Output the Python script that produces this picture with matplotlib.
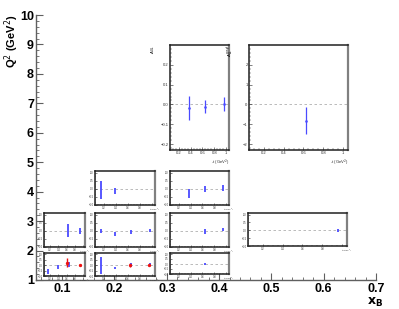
import matplotlib.pyplot as plt
from matplotlib.ticker import MultipleLocator

plt.rcParams['font.family'] = ['Liberation Sans', 'DejaVu Sans']

# -t values of the points inside the small panels
a1_blue_t = [0.15, 0.38, 0.66]
a1_blue = [-0.59, -0.14, 0.09]
a1_blue_err = [0.23, 0.18, 0.23]
a1_red_t = [0.62, 0.94]
a1_red = [0.23, 0.0]
a1_red_err = [0.40, 0.10]

a2_blue_t = [0.64, 0.94]
a2_blue = [0.0, -0.02]
a2_blue_err = [0.41, 0.19]

b1_blue_t = [0.145, 0.38, 0.655, 0.97]
b1_blue = [-0.05, -0.25, 0.0, 0.05]
b1_blue_err = [0.76, 0.10, 0.15, 0.10]
b1_red_t = [0.63, 0.95]
b1_red = [0.0, 0.0]
b1_red_err = [0.21, 0.08]

b2_blue_t = [0.145, 0.38, 0.645, 0.967]
b2_blue = [-0.01, -0.17, -0.07, 0.02]
b2_blue_err = [0.13, 0.12, 0.13, 0.08]

b3_blue_t = [0.145, 0.38]
b3_blue = [-0.09, -0.12]
b3_blue_err = [0.57, 0.17]

c1_blue_t = [0.64]
c1_blue = [0.0]
c1_blue_err = [0.09]

c2_blue_t = [0.64, 0.95]
c2_blue = [-0.04, 0.08]
c2_blue_err = [0.14, 0.12]

c3_blue_t = [0.377, 0.643, 0.95]
c3_blue = [-0.29, -0.02, 0.07]
c3_blue_err = [0.29, 0.18, 0.18]

d2_blue_t = [0.962]
d2_blue = [0.0]
d2_blue_err = [0.11]

# big panels
e_blue_t = [0.37, 0.64, 0.97]
e_blue = [-0.0185, -0.012, 0.0015]
e_blue_err = [0.06, 0.033, 0.036]

f_blue_t = [0.63]
f_blue = [-0.82]
f_blue_err = [0.68]

xb_ticks = [0.1, 0.2, 0.3, 0.4, 0.5, 0.6, 0.7]
q2_ticks = [1, 2, 3, 4, 5, 6, 7, 8, 9, 10]
t_ticks = [0.2, 0.4, 0.6, 0.8, 1.0]

W, H = 399, 309
fig = plt.figure(figsize=(W / 100, H / 100), dpi=100)

# main frame (x_B, Q^2)
ax = fig.add_axes([36 / W, 1 - 280 / H, 340 / W, 265 / H])
ax.set_xlim(0.05, 0.7)
ax.set_ylim(1, 10)
ax.set_xticks(xb_ticks)
ax.set_yticks(q2_ticks)
ax.set_xticklabels([f"{v:g}" for v in xb_ticks])
ax.xaxis.set_minor_locator(MultipleLocator(0.02))
ax.yaxis.set_minor_locator(MultipleLocator(0.2))
for s in ['top', 'right']:
    ax.spines[s].set_visible(False)
for s in ['left', 'bottom']:
    ax.spines[s].set_color('#606060')
    ax.spines[s].set_linewidth(1.0)
ax.tick_params(which='major', direction='in', length=5, width=0.8, color='#606060',
               labelsize=9)
ax.tick_params(which='minor', direction='in', length=2.5, width=0.6, color='#606060')
for lab in ax.get_xticklabels() + ax.get_yticklabels():
    lab.set_fontweight('bold')
ax.tick_params(axis='x', pad=2.5)
ax.tick_params(axis='y', pad=1.5)
fig.text(11.5 / W, 1 - 14 / H, 'Q$^{2}$ (GeV$^{2}$)', rotation=90, ha='center', va='top',
         fontsize=8, fontweight='bold')
fig.text(383 / W, 1 - 309 / H, r'$\mathbf{x_{B}}$', ha='right', va='bottom', fontsize=9)


def panel(box, ylim, ystep, big=False):
    l, t, r, b = box
    a = fig.add_axes([l / W, 1 - b / H, (r - l) / W, (b - t) / H])
    a.set_xlim(0.05, 1.05)
    a.set_ylim(*ylim)
    a.axhline(0, color='#b0b0b0', ls=(0, (3, 3)), lw=0.6, zorder=1)
    a.set_xticks(t_ticks)
    labels = [f"{v:g}" for v in t_ticks]
    if not big:
        labels[-1] = ''
    a.set_xticklabels(labels)
    a.yaxis.set_major_locator(MultipleLocator(ystep))
    a.yaxis.set_minor_locator(MultipleLocator(ystep / 5))
    a.xaxis.set_minor_locator(MultipleLocator(0.05))
    fs = 3 if big else 1.8
    a.tick_params(which='major', direction='in', length=2.5 if big else 1.5, width=0.4,
                  labelsize=fs, pad=1, color='#202020', labelcolor='#303030')
    a.tick_params(which='minor', direction='in', length=1.2 if big else 0.8, width=0.3,
                  color='#202020')
    for s in ['top', 'left', 'bottom']:
        a.spines[s].set_color('#202020')
        a.spines[s].set_linewidth(1.1)
    a.spines['right'].set_color('#808080')
    a.spines['right'].set_linewidth(1.6)
    if big:
        a.text(1.0, -0.07, '-t (GeV$^{2}$)', transform=a.transAxes,
               ha='right', va='top', fontsize=fs, color='#303030')
    else:
        # same row as the tick labels, right of the "0.8" label
        a.text(1.0 - 6 / (r - l), -1.3 / (b - t), '-t (GeV$^{2}$)',
               transform=a.transAxes, ha='left', va='top', fontsize=1.6,
               color='#303030')
    return a


def points(a, t, v, e, color, marker='none', ms=1.0, lw=1.3):
    a.errorbar(t, v, yerr=e, fmt=marker, color=color, ms=ms, lw=lw, capsize=0, zorder=3)


blue = '#4a4aff'
red = '#ee1111'
small = (-1.0, 1.1)

pa1 = panel((44, 253, 85, 276), small, 0.5)
points(pa1, a1_blue_t, a1_blue, a1_blue_err, blue)
points(pa1, a1_red_t, a1_red, a1_red_err, red, marker='o', ms=1.4, lw=1.0)

pa2 = panel((44, 213, 85, 247), small, 0.5)
points(pa2, a2_blue_t, a2_blue, a2_blue_err, blue)

pb1 = panel((95, 253, 155, 276), small, 0.5)
points(pb1, b1_red_t, b1_red, b1_red_err, red, marker='o', ms=1.4, lw=1.0)
points(pb1, b1_blue_t, b1_blue, b1_blue_err, blue)

pb2 = panel((95, 213, 155, 247), small, 0.5)
points(pb2, b2_blue_t, b2_blue, b2_blue_err, blue)

pb3 = panel((95, 171, 155, 205), small, 0.5)
points(pb3, b3_blue_t, b3_blue, b3_blue_err, blue)

pc1 = panel((170, 253, 229, 274), small, 0.5)
points(pc1, c1_blue_t, c1_blue, c1_blue_err, blue)

pc2 = panel((170, 213, 229, 247), small, 0.5)
points(pc2, c2_blue_t, c2_blue, c2_blue_err, blue)

pc3 = panel((170, 171, 229, 205), small, 0.5)
points(pc3, c3_blue_t, c3_blue, c3_blue_err, blue)

pd2 = panel((248, 213, 347, 246), small, 0.5)
points(pd2, d2_blue_t, d2_blue, d2_blue_err, blue)

pe = panel((170, 45, 229, 150), (-0.228, 0.298), 0.1, big=True)
points(pe, e_blue_t, e_blue, e_blue_err, blue, marker='s', ms=0.8, lw=0.9)
pe.text(-0.22, 1.0, r'$A_{UL}$', transform=pe.transAxes, rotation=90, ha='right',
        va='top', fontsize=3)

pf = panel((249, 45, 348, 150), (-2.28, 2.98), 1.0, big=True)
points(pf, f_blue_t, f_blue, f_blue_err, blue, marker='s', ms=0.8, lw=0.9)
pf.text(-0.13, 1.0, r'$A_{LL}^{\cos\phi}$', transform=pf.transAxes, rotation=90,
        ha='right', va='top', fontsize=3)

fig.savefig('out.png', dpi=100)
